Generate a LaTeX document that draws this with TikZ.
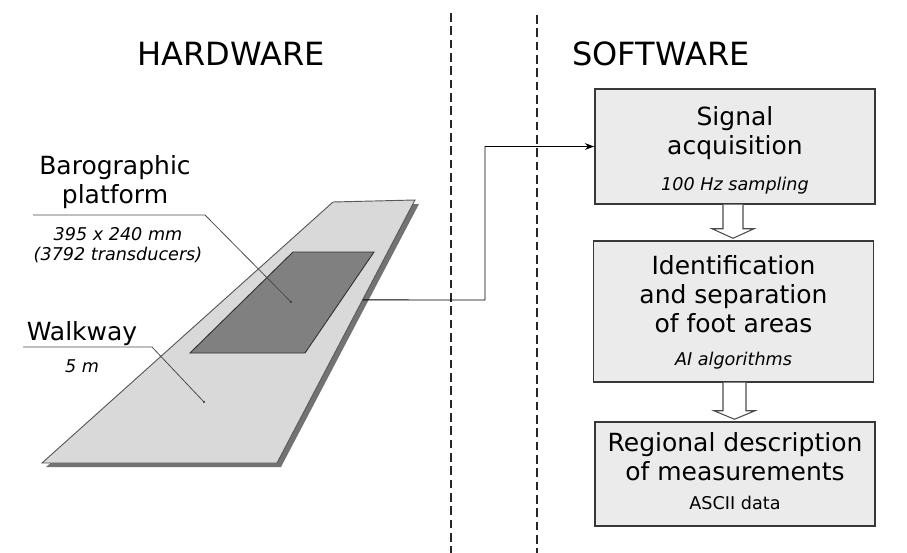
\documentclass[tikz,border=0pt]{standalone}
\usepackage{fontspec}
\setmainfont{DejaVu Sans}
\usetikzlibrary{calc,arrows.meta}
\begin{document}
\begin{tikzpicture}
    [x=0.75pt,y=-0.75pt,
     head/.style={font=\fontsize{24}{28}\selectfont},
     stepbox/.style={shape=rectangle,draw=black!78,fill=black!8,line width=1.1pt,minimum width=210pt,inner sep=0pt},
     title/.style={align=center,font=\fontsize{18.75}{21.75}\selectfont},
     sub/.style={align=center,font=\fontsize{13.2}{15}\selectfont\itshape},
     pointer/.style={draw=black!70,line width=0.6pt},
     divider/.style={dashed,dash pattern=on 6.5pt off 3.5pt,line width=1.3pt,black!85},
     blockarrow/.style={draw=black!70,fill=white,line width=0.8pt,line join=miter},
     post/.style={-{Stealth[length=7pt,width=5pt]},line width=0.7pt}]
    \useasboundingbox (0,0) rectangle (907,553);
    % headings and dividers
    \node [head] (hw) at (231,53.4) {HARDWARE};
    \node [head] (sw) at (661,53.4) {SOFTWARE};
    \draw [divider] (451,13) -- (451,553);
    \draw [divider] (537,15) -- (537,553);
    % walkway with platform
    \coordinate (wk nw) at (333,202);
    \coordinate (wk ne) at (415,200);
    \coordinate (wk se) at (277,463);
    \coordinate (wk sw) at (42,463);
    \fill [black!55] ($(wk nw)+(4,4)$) -- ($(wk ne)+(4,4)$) -- ($(wk se)+(4,4)$) -- ($(wk sw)+(4,4)$) -- cycle;
    \draw [draw=black!65,fill=black!15,line width=0.7pt] (wk nw) -- (wk ne) -- (wk se) -- (wk sw) -- cycle;
    \draw [draw=black!80,fill=black!50,line width=0.7pt] (293,252) -- (374,252) -- (305,353) -- (190,353) -- cycle;
    \coordinate (wk out) at ($(wk ne)!0.38!(wk se)$);
    % labels
    \node [title] (baro) at (115,182.5) {Barographic\\platform};
    \node [sub] (barosz) at (118,244.7) {395 x 240 mm\\(3792 transducers)};
    \coordinate (baro end) at (291,302);
    \draw [pointer] (33,215) -- (205,215) -- (baro end);
    \fill [black!80] (baro end) circle (1.2);
    \node [title] (walk) at (82,333.5) {Walkway};
    \node [sub] (walklen) at (82,366.6) {5 m};
    \coordinate (walk end) at (204,402);
    \draw [pointer] (23,347) -- (152,347) -- (walk end);
    \fill [black!80] (walk end) circle (1.2);
    % software steps
    \node [stepbox,minimum height=86.25pt] (sig) at (735,146.5) {};
    \node [title] (sigt) at (735,133) {Signal\\acquisition};
    \node [sub] (sigs) at (735,185.4) {100 Hz sampling};
    \node [stepbox,minimum height=105.75pt] (idf) at (733.5,311.5) {};
    \node [title] (idft) at (733.5,294.5) {Identification\\and separation\\of foot areas};
    \node [sub] (idfs) at (733.5,360.4) {AI algorithms};
    \node [stepbox,minimum height=78pt] (reg) at (735,474) {};
    \node [title] (regt) at (735,456.5) {Regional description\\of measurements};
    \node [sub,font=\fontsize{13.2}{15}\selectfont] (regs) at (735,503.3) {ASCII data};
    % connectors
    \draw [post] (wk out) -- (485,300) |- (sig.west);
    \draw [blockarrow] ($(sig.south)+(-12,0)$) -- ++(0,24) -- ++(-11,0) -- ($(idf.north)+(-0.5,-2)$)
      -- ($(sig.south)+(19,24)$) -- ++(-11,0) -- ($(sig.south)+(8,0)$);
    \draw [blockarrow] ($(idf.south)+(-10.5,0)$) -- ++(0,28) -- ++(-9,0) -- ($(reg.north)+(-0.5,-2)$)
      -- ($(idf.south)+(21.5,28)$) -- ++(-9,0) -- ($(idf.south)+(12.5,0)$);
\end{tikzpicture}
\end{document}
